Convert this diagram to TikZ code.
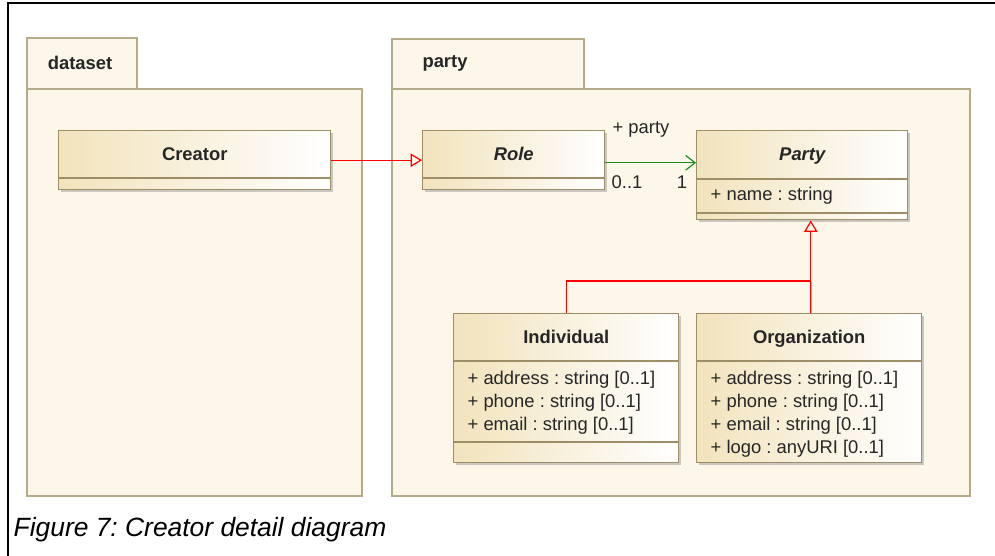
\documentclass[tikz,border=0pt]{standalone}
\usepackage{fontspec}
\setmainfont{Liberation Sans}
\frenchspacing
\usetikzlibrary{arrows.meta,positioning,calc,shadows}

\definecolor{pkgfill}{HTML}{FDF7E9}
\definecolor{pkgline}{HTML}{B5AA8A}
\definecolor{clsline}{HTML}{9E8E68}
\definecolor{clstan}{HTML}{F2E3BC}
\definecolor{assocgreen}{HTML}{1A8C1A}

\begin{document}
\begin{tikzpicture}[x=.75pt,y=-.75pt,line width=1pt,
  pkg/.style={draw=pkgline,fill=pkgfill,line width=1.1pt},
  pkgname/.style={font=\fontsize{13.8}{15}\selectfont\bfseries,text=black!85},
  cls/.style={draw=clsline,left color=clstan,right color=white,anchor=north west,
    inner sep=0pt,line width=1.1pt,
    drop shadow={shadow xshift=1.6pt,shadow yshift=-1.6pt,fill=black!40,opacity=.5}},
  sep/.style={draw=clsline,line width=1.1pt},
  clsname/.style={font=\fontsize{13.8}{15}\selectfont\bfseries,text=black!85,anchor=base},
  absname/.style={font=\fontsize{13.8}{15}\selectfont\bfseries\itshape,text=black!85,anchor=base},
  attrs/.style={font=\fontsize{13.8}{17.25}\selectfont,align=left,anchor=north west,
    inner sep=0pt,text=black!85},
  role/.style={font=\fontsize{13.8}{15}\selectfont,inner sep=0pt,text=black!85},
  realize/.style={draw=red,line width=.9pt,-{Triangle[open,length=8.5pt,width=10pt]}},
  general/.style={draw=red,line width=.9pt},
  assoc/.style={draw=assocgreen,line width=.9pt,-{Straight Barb[length=7pt,width=11pt]}}]

  \useasboundingbox (0,0) rectangle (995,556);
  \draw[line width=1.4pt] (8,556) -- (8,3) -- (996,3);

  \draw[pkg] (27,38) rectangle (137,89);
  \draw[pkg] (27,89) rectangle (362,496);
  \node[pkgname] (dsname) at (80,63) {dataset};

  \draw[pkg] (392,39) rectangle (584,89);
  \draw[pkg] (392,89) rectangle (970,496);
  \node[pkgname] (ptname) at (445,63) {party};

  \node[cls,minimum width=204pt,minimum height=44.25pt] (creator) at (58,130) {};
  \draw[sep] ($(creator.north west)+(0,48)$) -- ($(creator.north east)+(0,48)$);
  \node[clsname] at ($(creator.north)+(0,31)$) {Creator};

  \node[cls,minimum width=136.5pt,minimum height=44.25pt] (role) at (422,130) {};
  \draw[sep] ($(role.north west)+(0,48)$) -- ($(role.north east)+(0,48)$);
  \node[absname] at ($(role.north)+(0,31)$) {Role};

  \node[cls,minimum width=158.25pt,minimum height=66.75pt] (party) at (696,130) {};
  \draw[sep] ($(party.north west)+(0,49)$) -- ($(party.north east)+(0,49)$);
  \draw[sep] ($(party.north west)+(0,83)$) -- ($(party.north east)+(0,83)$);
  \node[absname] at ($(party.north)+(0,31)$) {Party};
  \node[attrs] at ($(party.north west)+(14,57)$) {+ name : string};

  \node[cls,minimum width=168.75pt,minimum height=111.75pt] (indiv) at (453,313) {};
  \draw[sep] ($(indiv.north west)+(0,48)$) -- ($(indiv.north east)+(0,48)$);
  \draw[sep] ($(indiv.north west)+(0,129)$) -- ($(indiv.north east)+(0,129)$);
  \node[clsname] at ($(indiv.north)+(0,30)$) {Individual};
  \node[attrs] at ($(indiv.north west)+(14,57)$)
    {+ address : string [0..1]\\+ phone : string [0..1]\\+ email : string [0..1]};

  \node[cls,minimum width=168.75pt,minimum height=111.75pt] (org) at (696,313) {};
  \draw[sep] ($(org.north west)+(0,48)$) -- ($(org.north east)+(0,48)$);
  \node[clsname] at ($(org.north)+(0,30)$) {Organization};
  \node[attrs] at ($(org.north west)+(14,57)$)
    {+ address : string [0..1]\\+ phone : string [0..1]\\+ email : string [0..1]\\+ logo : anyURI [0..1]};

  \draw[realize] (creator.east) -- (role.west);

  \draw[assoc] ([yshift=-1.9pt]role.east) -- ([yshift=-1.9pt]role.east -| party.west);
  \node[role] (rolename) at (641,129) {+ party};
  \node[role] (rolemult) at (627,182) {0..1};
  \node[role] (partymult) at (682,182) {1};

  \coordinate (gjoin) at ($(org.north)+(1.5,-32)$);
  \draw[general] (indiv.north) -- (indiv.north |- gjoin) -- (gjoin);
  \draw[general] ([xshift=1.1pt]org.north) -- (gjoin);
  \draw[realize] (gjoin) -- (gjoin |- party.south);

  \node[anchor=base west,inner sep=0pt,font=\fontsize{19.8}{22}\selectfont\itshape] (caption)
    at (13,536) {Figure 7: Creator detail diagram};
\end{tikzpicture}
\end{document}
